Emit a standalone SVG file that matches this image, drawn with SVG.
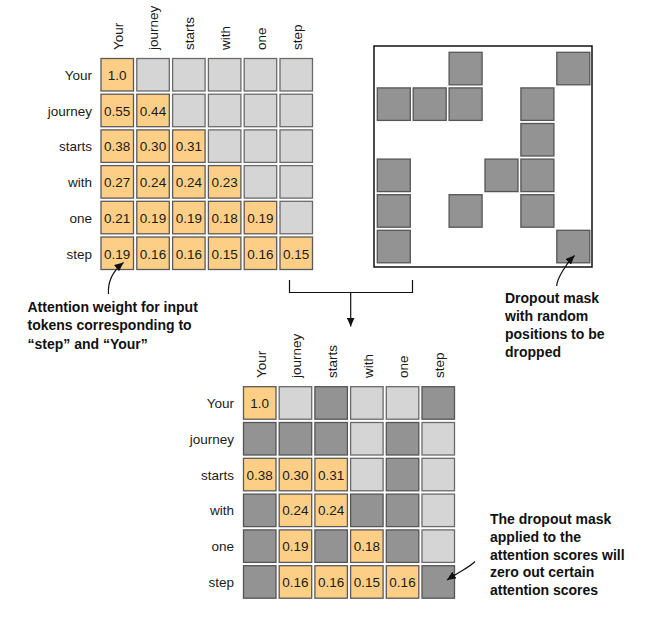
<svg xmlns="http://www.w3.org/2000/svg" width="662" height="618" viewBox="0 0 662 618">
<style>
.o{fill:#FDCF86;stroke:#5a5a5a;stroke-width:1.3}
.l{fill:#D5D5D5;stroke:#6a6a6a;stroke-width:1.3}
.d{fill:#939393;stroke:#555;stroke-width:1.3}
.v{font-family:"Liberation Sans",Arial,sans-serif;font-size:13.5px;fill:#1a1a1a;text-anchor:middle}
.rl{font-family:"Liberation Sans",Arial,sans-serif;font-size:13.5px;fill:#1a1a1a;text-anchor:end}
.cl{font-family:"Liberation Sans",Arial,sans-serif;font-size:13.5px;fill:#1a1a1a}
.ann{font-family:"Liberation Sans",Arial,sans-serif;font-size:14px;font-weight:bold;fill:#111}
.ln{fill:none;stroke:#111;stroke-width:1.2}
</style>
<defs>
<marker id="ah" markerUnits="userSpaceOnUse" markerWidth="10" markerHeight="8" refX="9" refY="4" orient="auto">
<path d="M0,0 L9,4 L0,8 Z" fill="#111"/>
</marker>
</defs>
<rect width="662" height="618" fill="#fff"/>

<g id="top-matrix">
<g id="top-col-labels">
<text class="cl" transform="translate(122.5,50) rotate(-90)">Your</text>
<text class="cl" transform="translate(158.3,50) rotate(-90)">journey</text>
<text class="cl" transform="translate(194.1,50) rotate(-90)">starts</text>
<text class="cl" transform="translate(229.9,50) rotate(-90)">with</text>
<text class="cl" transform="translate(265.7,50) rotate(-90)">one</text>
<text class="cl" transform="translate(301.5,50) rotate(-90)">step</text>
</g>
<g id="top-row-labels">
<text class="rl" x="92" y="80">Your</text>
<text class="rl" x="92" y="115.7">journey</text>
<text class="rl" x="92" y="151.4">starts</text>
<text class="rl" x="92" y="187.1">with</text>
<text class="rl" x="92" y="222.8">one</text>
<text class="rl" x="92" y="258.5">step</text>
</g>
<g id="top-row0">
<rect class="o" x="101" y="58.5" width="32.5" height="32.5"/><text class="v" x="117.2" y="80">1.0</text>
<rect class="l" x="136.8" y="58.5" width="32.5" height="32.5"/>
<rect class="l" x="172.6" y="58.5" width="32.5" height="32.5"/>
<rect class="l" x="208.4" y="58.5" width="32.5" height="32.5"/>
<rect class="l" x="244.2" y="58.5" width="32.5" height="32.5"/>
<rect class="l" x="280" y="58.5" width="32.5" height="32.5"/>
</g>
<g id="top-row1">
<rect class="o" x="101" y="94.2" width="32.5" height="32.5"/><text class="v" x="117.2" y="115.7">0.55</text>
<rect class="o" x="136.8" y="94.2" width="32.5" height="32.5"/><text class="v" x="153" y="115.7">0.44</text>
<rect class="l" x="172.6" y="94.2" width="32.5" height="32.5"/>
<rect class="l" x="208.4" y="94.2" width="32.5" height="32.5"/>
<rect class="l" x="244.2" y="94.2" width="32.5" height="32.5"/>
<rect class="l" x="280" y="94.2" width="32.5" height="32.5"/>
</g>
<g id="top-row2">
<rect class="o" x="101" y="129.9" width="32.5" height="32.5"/><text class="v" x="117.2" y="151.4">0.38</text>
<rect class="o" x="136.8" y="129.9" width="32.5" height="32.5"/><text class="v" x="153" y="151.4">0.30</text>
<rect class="o" x="172.6" y="129.9" width="32.5" height="32.5"/><text class="v" x="188.8" y="151.4">0.31</text>
<rect class="l" x="208.4" y="129.9" width="32.5" height="32.5"/>
<rect class="l" x="244.2" y="129.9" width="32.5" height="32.5"/>
<rect class="l" x="280" y="129.9" width="32.5" height="32.5"/>
</g>
<g id="top-row3">
<rect class="o" x="101" y="165.6" width="32.5" height="32.5"/><text class="v" x="117.2" y="187.1">0.27</text>
<rect class="o" x="136.8" y="165.6" width="32.5" height="32.5"/><text class="v" x="153" y="187.1">0.24</text>
<rect class="o" x="172.6" y="165.6" width="32.5" height="32.5"/><text class="v" x="188.8" y="187.1">0.24</text>
<rect class="o" x="208.4" y="165.6" width="32.5" height="32.5"/><text class="v" x="224.6" y="187.1">0.23</text>
<rect class="l" x="244.2" y="165.6" width="32.5" height="32.5"/>
<rect class="l" x="280" y="165.6" width="32.5" height="32.5"/>
</g>
<g id="top-row4">
<rect class="o" x="101" y="201.3" width="32.5" height="32.5"/><text class="v" x="117.2" y="222.8">0.21</text>
<rect class="o" x="136.8" y="201.3" width="32.5" height="32.5"/><text class="v" x="153" y="222.8">0.19</text>
<rect class="o" x="172.6" y="201.3" width="32.5" height="32.5"/><text class="v" x="188.8" y="222.8">0.19</text>
<rect class="o" x="208.4" y="201.3" width="32.5" height="32.5"/><text class="v" x="224.6" y="222.8">0.18</text>
<rect class="o" x="244.2" y="201.3" width="32.5" height="32.5"/><text class="v" x="260.4" y="222.8">0.19</text>
<rect class="l" x="280" y="201.3" width="32.5" height="32.5"/>
</g>
<g id="top-row5">
<rect class="o" x="101" y="237" width="32.5" height="32.5"/><text class="v" x="117.2" y="258.5">0.19</text>
<rect class="o" x="136.8" y="237" width="32.5" height="32.5"/><text class="v" x="153" y="258.5">0.16</text>
<rect class="o" x="172.6" y="237" width="32.5" height="32.5"/><text class="v" x="188.8" y="258.5">0.16</text>
<rect class="o" x="208.4" y="237" width="32.5" height="32.5"/><text class="v" x="224.6" y="258.5">0.15</text>
<rect class="o" x="244.2" y="237" width="32.5" height="32.5"/><text class="v" x="260.4" y="258.5">0.16</text>
<rect class="o" x="280" y="237" width="32.5" height="32.5"/><text class="v" x="296.2" y="258.5">0.15</text>
</g>
</g>

<g id="dropout-mask">
<rect x="374" y="46" width="218" height="221" fill="#fff" stroke="#111" stroke-width="1.5"/>
<rect class="d" x="449.1" y="52.3" width="33" height="32.5"/>
<rect class="d" x="556.8" y="52.3" width="33" height="32.5"/>
<rect class="d" x="377.3" y="87.9" width="33" height="32.5"/>
<rect class="d" x="413.2" y="87.9" width="33" height="32.5"/>
<rect class="d" x="449.1" y="87.9" width="33" height="32.5"/>
<rect class="d" x="520.9" y="87.9" width="33" height="32.5"/>
<rect class="d" x="520.9" y="123.5" width="33" height="32.5"/>
<rect class="d" x="377.3" y="159.1" width="33" height="32.5"/>
<rect class="d" x="485" y="159.1" width="33" height="32.5"/>
<rect class="d" x="520.9" y="159.1" width="33" height="32.5"/>
<rect class="d" x="377.3" y="194.7" width="33" height="32.5"/>
<rect class="d" x="449.1" y="194.7" width="33" height="32.5"/>
<rect class="d" x="520.9" y="194.7" width="33" height="32.5"/>
<rect class="d" x="377.3" y="230.3" width="33" height="32.5"/>
<rect class="d" x="556.8" y="230.3" width="33" height="32.5"/>
</g>

<g id="bottom-matrix">
<g id="bottom-col-labels">
<text class="cl" transform="translate(265.5,378) rotate(-90)">Your</text>
<text class="cl" transform="translate(301.2,378) rotate(-90)">journey</text>
<text class="cl" transform="translate(336.9,378) rotate(-90)">starts</text>
<text class="cl" transform="translate(372.6,378) rotate(-90)">with</text>
<text class="cl" transform="translate(408.3,378) rotate(-90)">one</text>
<text class="cl" transform="translate(444,378) rotate(-90)">step</text>
</g>
<g id="bottom-row-labels">
<text class="rl" x="234" y="408">Your</text>
<text class="rl" x="234" y="443.8">journey</text>
<text class="rl" x="234" y="479.6">starts</text>
<text class="rl" x="234" y="515.4">with</text>
<text class="rl" x="234" y="551.2">one</text>
<text class="rl" x="234" y="587">step</text>
</g>
<g id="bottom-row0">
<rect class="o" x="243.5" y="386.7" width="32.5" height="32.5"/><text class="v" x="259.7" y="408">1.0</text>
<rect class="l" x="279.2" y="386.7" width="32.5" height="32.5"/>
<rect class="d" x="314.9" y="386.7" width="32.5" height="32.5"/>
<rect class="l" x="350.6" y="386.7" width="32.5" height="32.5"/>
<rect class="l" x="386.3" y="386.7" width="32.5" height="32.5"/>
<rect class="d" x="422" y="386.7" width="32.5" height="32.5"/>
</g>
<g id="bottom-row1">
<rect class="d" x="243.5" y="422.5" width="32.5" height="32.5"/>
<rect class="d" x="279.2" y="422.5" width="32.5" height="32.5"/>
<rect class="d" x="314.9" y="422.5" width="32.5" height="32.5"/>
<rect class="l" x="350.6" y="422.5" width="32.5" height="32.5"/>
<rect class="d" x="386.3" y="422.5" width="32.5" height="32.5"/>
<rect class="l" x="422" y="422.5" width="32.5" height="32.5"/>
</g>
<g id="bottom-row2">
<rect class="o" x="243.5" y="458.3" width="32.5" height="32.5"/><text class="v" x="259.7" y="479.6">0.38</text>
<rect class="o" x="279.2" y="458.3" width="32.5" height="32.5"/><text class="v" x="295.4" y="479.6">0.30</text>
<rect class="o" x="314.9" y="458.3" width="32.5" height="32.5"/><text class="v" x="331.1" y="479.6">0.31</text>
<rect class="l" x="350.6" y="458.3" width="32.5" height="32.5"/>
<rect class="d" x="386.3" y="458.3" width="32.5" height="32.5"/>
<rect class="l" x="422" y="458.3" width="32.5" height="32.5"/>
</g>
<g id="bottom-row3">
<rect class="d" x="243.5" y="494.1" width="32.5" height="32.5"/>
<rect class="o" x="279.2" y="494.1" width="32.5" height="32.5"/><text class="v" x="295.4" y="515.4">0.24</text>
<rect class="o" x="314.9" y="494.1" width="32.5" height="32.5"/><text class="v" x="331.1" y="515.4">0.24</text>
<rect class="d" x="350.6" y="494.1" width="32.5" height="32.5"/>
<rect class="d" x="386.3" y="494.1" width="32.5" height="32.5"/>
<rect class="l" x="422" y="494.1" width="32.5" height="32.5"/>
</g>
<g id="bottom-row4">
<rect class="d" x="243.5" y="529.9" width="32.5" height="32.5"/>
<rect class="o" x="279.2" y="529.9" width="32.5" height="32.5"/><text class="v" x="295.4" y="551.2">0.19</text>
<rect class="d" x="314.9" y="529.9" width="32.5" height="32.5"/>
<rect class="o" x="350.6" y="529.9" width="32.5" height="32.5"/><text class="v" x="366.8" y="551.2">0.18</text>
<rect class="d" x="386.3" y="529.9" width="32.5" height="32.5"/>
<rect class="l" x="422" y="529.9" width="32.5" height="32.5"/>
</g>
<g id="bottom-row5">
<rect class="d" x="243.5" y="565.7" width="32.5" height="32.5"/>
<rect class="o" x="279.2" y="565.7" width="32.5" height="32.5"/><text class="v" x="295.4" y="587">0.16</text>
<rect class="o" x="314.9" y="565.7" width="32.5" height="32.5"/><text class="v" x="331.1" y="587">0.16</text>
<rect class="o" x="350.6" y="565.7" width="32.5" height="32.5"/><text class="v" x="366.8" y="587">0.15</text>
<rect class="o" x="386.3" y="565.7" width="32.5" height="32.5"/><text class="v" x="402.5" y="587">0.16</text>
<rect class="d" x="422" y="565.7" width="32.5" height="32.5"/>
</g>
</g>

<g id="connectors">
<path class="ln" d="M289.5,280 V292.5 H412.5 V280"/>
<path class="ln" d="M350.7,292.5 V326.5" marker-end="url(#ah)"/>
<path class="ln" d="M108.5,294 C107.5,282 113,271 123.5,262.5" marker-end="url(#ah)"/>
<path class="ln" d="M556.7,286 C557,279 565,265 574.5,255.5" marker-end="url(#ah)"/>
<path class="ln" d="M475,561.5 C470,567 462,570 447,580" marker-end="url(#ah)"/>
</g>

<g id="annotation-left">
<text class="ann" x="27.5" y="311.5">Attention weight for input</text>
<text class="ann" x="27.5" y="330">tokens corresponding to</text>
<text class="ann" x="27.5" y="348.5">“step” and “Your”</text>
</g>
<g id="annotation-right">
<text class="ann" x="505" y="302.5">Dropout mask</text>
<text class="ann" x="505" y="320.5">with random</text>
<text class="ann" x="505" y="338.5">positions to be</text>
<text class="ann" x="505" y="356.5">dropped</text>
</g>
<g id="annotation-bottom">
<text class="ann" x="490" y="524">The dropout mask</text>
<text class="ann" x="490" y="541.8">applied to the</text>
<text class="ann" x="490" y="559.6">attention scores will</text>
<text class="ann" x="490" y="577.4">zero out certain</text>
<text class="ann" x="490" y="595.2">attention scores</text>
</g>
</svg>
